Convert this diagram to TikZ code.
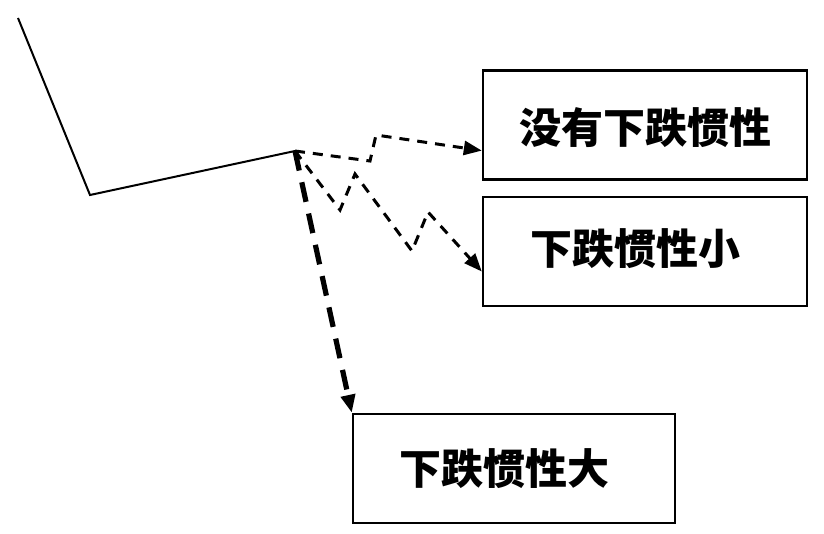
\documentclass[tikz,border=0pt]{standalone}
\usepackage{fontspec}
\newfontfamily\cjk{Noto Sans CJK SC}
\usetikzlibrary{arrows.meta,positioning,calc}

\begin{document}
\begin{tikzpicture}[
  x=0.5pt,y=-0.5pt,>={Triangle[length=9pt,width=7pt]},
  box/.style={draw,line width=1.2pt,minimum width=162pt,minimum height=54.5pt},
  word/.style={font=\cjk\bfseries\fontsize{21}{25}\selectfont},
  thin dash/.style={->,line width=1.5pt,dash pattern=on 5pt off 4pt},
  thick dash/.style={->,line width=2.6pt,dash pattern=on 10pt off 6pt}
]
  \useasboundingbox (0,0) rectangle (824,534);
  \node[box] (none) at (645,125) {};
  \node[box] (small) at (645,251.5) {};
  \node[box,minimum width=161pt] (large) at (514,468.5) {};
  \node[word] (nonetext) at ($(none)+(0,3)$) {没有下跌惯性};
  \node[word] (smalltext) at ($(small)+(-10,-3)$) {下跌惯性小};
  \node[word] (largetext) at ($(large)+(-10,0)$) {下跌惯性大};
  % price line
  \coordinate (top) at (18,18);
  \coordinate (low) at (90,195);
  \coordinate (peak) at (295,151);
  \draw[line width=1pt] (top) -- (low) -- (peak);
  % three ways down
  \coordinate (a1) at (370,161);
  \coordinate (a2) at (376,135);
  \draw[thin dash] (peak) -- (a1) -- (a2) -- ($(none.south west)!0.27!(none.north west)$);
  \coordinate (b1) at (340,210);
  \coordinate (b2) at (355,174);
  \coordinate (b3) at (412,251);
  \coordinate (b4) at (428,212);
  \draw[thin dash] (peak) -- (b1) -- (b2) -- (b3) -- (b4) -- ($(small.south west)!0.32!(small.north west)$);
  \draw[thick dash] (peak) -- (large.north west);
\end{tikzpicture}
\end{document}
